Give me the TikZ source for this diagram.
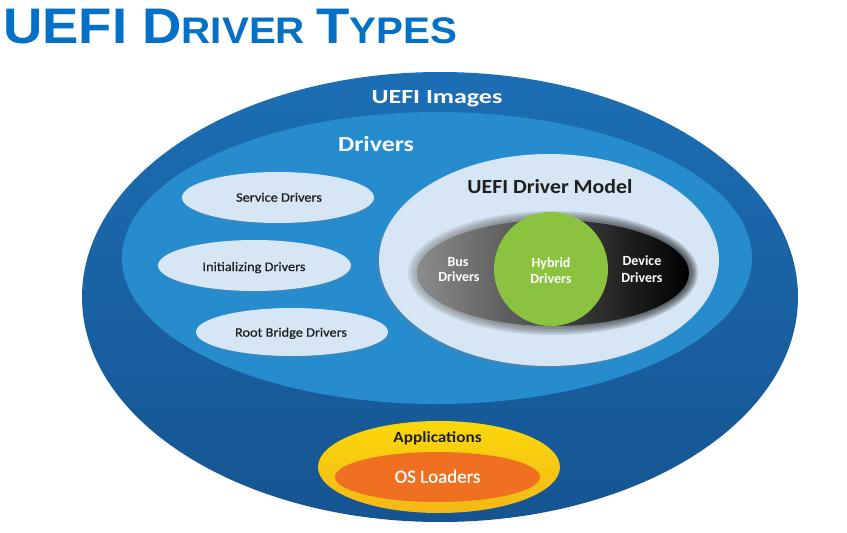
\documentclass[tikz,border=0pt]{standalone}
\usepackage{fontspec}
\setmainfont{Carlito}
\newfontfamily\semib[FakeBold=0.6]{Carlito}
\newfontfamily\titlefont{Liberation Sans}
\usetikzlibrary{shapes.geometric,shadows}

\definecolor{titleblue}{RGB}{4,112,198}
\definecolor{outertop}{RGB}{28,110,180}
\definecolor{outerbot}{RGB}{22,84,145}
\definecolor{drvblue}{RGB}{38,140,206}
\definecolor{lightblue}{RGB}{214,230,245}
\definecolor{hybridgreen}{RGB}{139,195,64}
\definecolor{yellowtop}{RGB}{250,216,10}
\definecolor{yellowbot}{RGB}{244,184,22}
\definecolor{osorange}{RGB}{240,112,34}
\definecolor{darktext}{RGB}{30,30,30}

\newcommand{\hsc}[2]{\scalebox{#1}[1]{#2}}
\newcommand{\ttlbig}{\fontsize{50}{50}\selectfont}
\newcommand{\ttlsmall}{\fontsize{37}{37}\selectfont}

\begin{document}
\begin{tikzpicture}[x=1pt,y=-1pt,
  lightoval/.style={ellipse, inner sep=0pt, fill=lightblue,
    drop shadow={opacity=0.25, shadow xshift=1pt, shadow yshift=-1.5pt}},
  whitehead/.style={anchor=base, inner sep=0pt, text=white, font=\bfseries},
  darkhead/.style={anchor=base, inner sep=0pt, text=darktext, font=\bfseries},
  smalllabel/.style={anchor=base, inner sep=0pt, text=darktext, font=\semib\fontsize{13}{13}\selectfont},
  innerlabel/.style={anchor=base, inner sep=0pt, text=white, font=\bfseries\fontsize{14}{14}\selectfont},
  bandshade/.style={ellipse, inner sep=0pt, left color=black!45, right color=black}
]
\useasboundingbox (0,0) rectangle (847,533);

% title
\node[anchor=base west, inner sep=0pt, text=titleblue] (title) at (3,43.5)
  {\hsc{1.09}{\titlefont\bfseries\ttlbig UEFI D\ttlsmall RIVER \ttlbig T\ttlsmall YPES}};

% UEFI images
\node[ellipse, inner sep=0pt, minimum width=716pt, minimum height=450pt,
  top color=outertop, bottom color=outerbot] (images) at (440,297) {};
\node[whitehead, font=\bfseries\fontsize{20}{20}\selectfont] (imageslbl) at (437,103)
  {\hsc{1.3}{UEFI Images}};

% Drivers
\node[ellipse, inner sep=0pt, minimum width=630pt, minimum height=292pt, fill=drvblue] (drivers) at (437,258) {};
\node[whitehead, font=\bfseries\fontsize{21.5}{21.5}\selectfont] (driverslbl) at (376,151)
  {\hsc{1.2}{Drivers}};

% small driver kinds
\node[lightoval, minimum width=192pt, minimum height=51pt] (service) at (278,197.5) {};
\node[smalllabel] (servicelbl) at (279,201.7) {\hsc{1.1}{Service Drivers}};
\node[lightoval, minimum width=193pt, minimum height=51pt] (init) at (254.5,265.5) {};
\node[smalllabel] (initlbl) at (254,271) {\hsc{1.1}{Initializing Drivers}};
\node[lightoval, minimum width=192pt, minimum height=48pt] (root) at (292,332) {};
\node[smalllabel] (rootlbl) at (291,336.7) {\hsc{1.1}{Root Bridge Drivers}};

% UEFI driver model
\node[ellipse, inner sep=0pt, minimum width=340pt, minimum height=212pt, fill=lightblue,
  drop shadow={opacity=0.3, shadow xshift=-2pt, shadow yshift=-2pt}] (model) at (549,260) {};
\node[darkhead, font=\bfseries\fontsize{20}{20}\selectfont] (modellbl) at (550,193)
  {\hsc{1.09}{UEFI Driver Model}};

% bus / device gradient band with soft edge
\foreach \k in {6,5,4,3,2,1} {
  \node[bandshade, fill opacity=0.14, minimum width={272pt+3pt*\k}, minimum height={106pt+3pt*\k}]
    (halo\k) at (553,273) {};
}
\node[bandshade, minimum width=272pt, minimum height=106pt] (band) at (553,273) {};

% hybrid
\node[circle, inner sep=0pt, minimum size=114pt, fill=hybridgreen] (hybrid) at (551,269) {};

\node[innerlabel] (bus1) at (458,266) {Bus};
\node[innerlabel] (bus2) at (459,281.7) {Drivers};
\node[innerlabel] (hyb1) at (551,267) {Hybrid};
\node[innerlabel] (hyb2) at (551,283) {Drivers};
\node[innerlabel] (dev1) at (642,265) {Device};
\node[innerlabel] (dev2) at (642,282) {Drivers};

% applications
\node[ellipse, inner sep=0pt, minimum width=242pt, minimum height=92pt,
  top color=yellowtop, bottom color=yellowbot] (apps) at (439,467) {};
\node[darkhead, font=\bfseries\fontsize{15.5}{15.5}\selectfont] (appslbl) at (437.5,442)
  {\hsc{1.11}{Applications}};
\node[ellipse, inner sep=0pt, minimum width=205pt, minimum height=50pt, fill=osorange] (os) at (437.5,477) {};
\node[anchor=base, inner sep=0pt, text=white, font=\semib\fontsize{18.6}{18.6}\selectfont] (oslbl) at (437.5,482.7)
  {\hsc{1.02}{OS Loaders}};
\end{tikzpicture}
\end{document}
